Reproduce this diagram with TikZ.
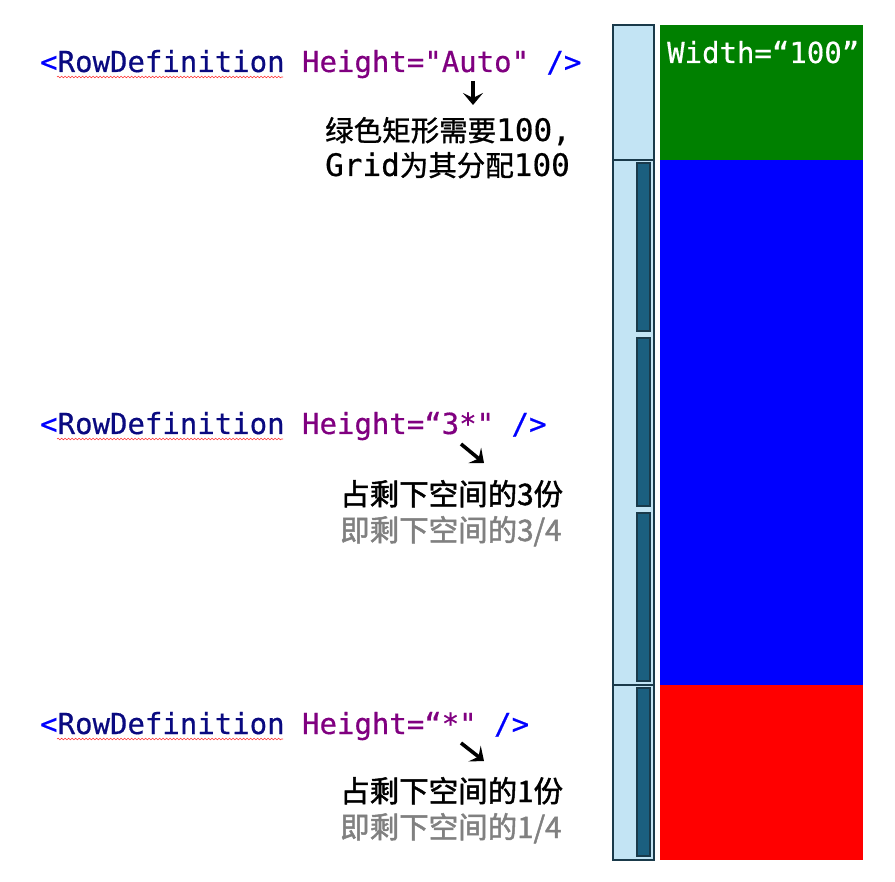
\documentclass[tikz,border=0pt]{standalone}
\usepackage{fontspec}
\setmonofont[FakeBold=0.5]{DejaVu Sans Mono}
\newfontfamily\cjk{Noto Sans CJK SC}
\newfontfamily\cjkm[FakeBold=1.6]{Noto Sans CJK SC}
\newfontfamily\cjkg[FakeBold=1]{Noto Sans CJK SC}
\usetikzlibrary{arrows.meta,decorations.pathmorphing}
\definecolor{kwblue}{RGB}{0,0,255}
\definecolor{kwnavy}{RGB}{10,10,128}
\definecolor{kwpurple}{RGB}{128,0,128}
\definecolor{barlight}{RGB}{195,228,244}
\definecolor{bardark}{RGB}{26,58,74}
\definecolor{barinner}{RGB}{27,95,127}
\definecolor{grayt}{RGB}{128,128,128}
\definecolor{gridgreen}{RGB}{0,128,0}
\tikzset{
  code/.style={anchor=base west,inner sep=0pt,font=\ttfamily\fontsize{29}{29}\selectfont},
  note/.style={anchor=base west,inner sep=0pt,font=\fontsize{28.5}{28.5}\selectfont},
  notetwo/.style={anchor=base west,inner sep=0pt,font=\fontsize{29.5}{29.5}\selectfont},
  outerbar/.style={fill=barlight,draw=bardark,line width=1.6pt},
  innerbar/.style={fill=barinner,draw=bardark,line width=1.2pt},
  pointer/.style={line width=3.6pt,-{Stealth[length=12pt,width=20pt,inset=5pt]}},
  squiggle/.style={red!80,line width=0.6pt,decorate,decoration={snake,amplitude=0.8pt,segment length=3.5pt}},
}
\newcommand{\rd}[1]{{\color{kwblue}<}{\color{kwnavy}RowDefinition} {\color{kwpurple}Height=#1} {\color{kwblue}/>}}
\newcommand{\mono}[1]{{\ttfamily\fontsize{31}{31}\selectfont #1}}
\begin{document}
\begin{tikzpicture}[x=1pt,y=-1pt]
\useasboundingbox (0,0) rectangle (895,882);
% grid bar
\node[outerbar,minimum width=41pt,minimum height=135pt,inner sep=0pt] (b1) at (633.5,92.5) {};
\node[outerbar,minimum width=41pt,minimum height=525pt,inner sep=0pt] (b2) at (633.5,422.5) {};
\node[outerbar,minimum width=41pt,minimum height=175pt,inner sep=0pt] (b3) at (633.5,772.5) {};
\node[innerbar,minimum width=13pt,minimum height=168pt,inner sep=0pt] (s1) at (643.5,247) {};
\node[innerbar,minimum width=13pt,minimum height=168pt,inner sep=0pt] (s2) at (643.5,422) {};
\node[innerbar,minimum width=13pt,minimum height=168pt,inner sep=0pt] (s3) at (643.5,597) {};
\node[innerbar,minimum width=13pt,minimum height=168pt,inner sep=0pt] (s4) at (643.5,772) {};
% colored rows
\fill[gridgreen] (660,25) rectangle (863,160);
\fill[kwblue] (660,160) rectangle (863,685);
\fill[red] (660,685) rectangle (863,860);
\node[code,text=white] (w) at (667,63) {Width=“100”};
% code lines
\node[code] (c1) at (40,72) {\rd{"Auto"}};
\node[code] (c2) at (40,434) {\rd{“3*"}};
\node[code] (c3) at (40,734) {\rd{“*"}};
\draw[squiggle] (57,77) -- (283,77);
\draw[squiggle] (57,439) -- (283,439);
\draw[squiggle] (57,739) -- (283,739);
% notes
\node[note] (n1) at (325,141) {{\cjkg 绿色矩形需要}\mono{100,}};
\node[note] (n1b) at (325,176) {\mono{Grid}{\cjkg 为其分配}\mono{100}};
\node[notetwo] (n2) at (340,505) {\cjkm 占剩下空间的3份};
\node[notetwo,text=grayt] (n2b) at (340,541) {\cjkm 即剩下空间的3/4};
\node[notetwo] (n3) at (340,802) {\cjkm 占剩下空间的1份};
\node[notetwo,text=grayt] (n3b) at (340,838) {\cjkm 即剩下空间的1/4};
% arrows
\coordinate (a1s) at (473,81);
\coordinate (a1e) at (473,105);
\coordinate (a2s) at (461,444);
\coordinate (a2e) at (484,463);
\coordinate (a3s) at (461,743);
\coordinate (a3e) at (484,761);
\draw[pointer] (a1s) -- (a1e);
\draw[pointer] (a2s) -- (a2e);
\draw[pointer] (a3s) -- (a3e);
\end{tikzpicture}
\end{document}
